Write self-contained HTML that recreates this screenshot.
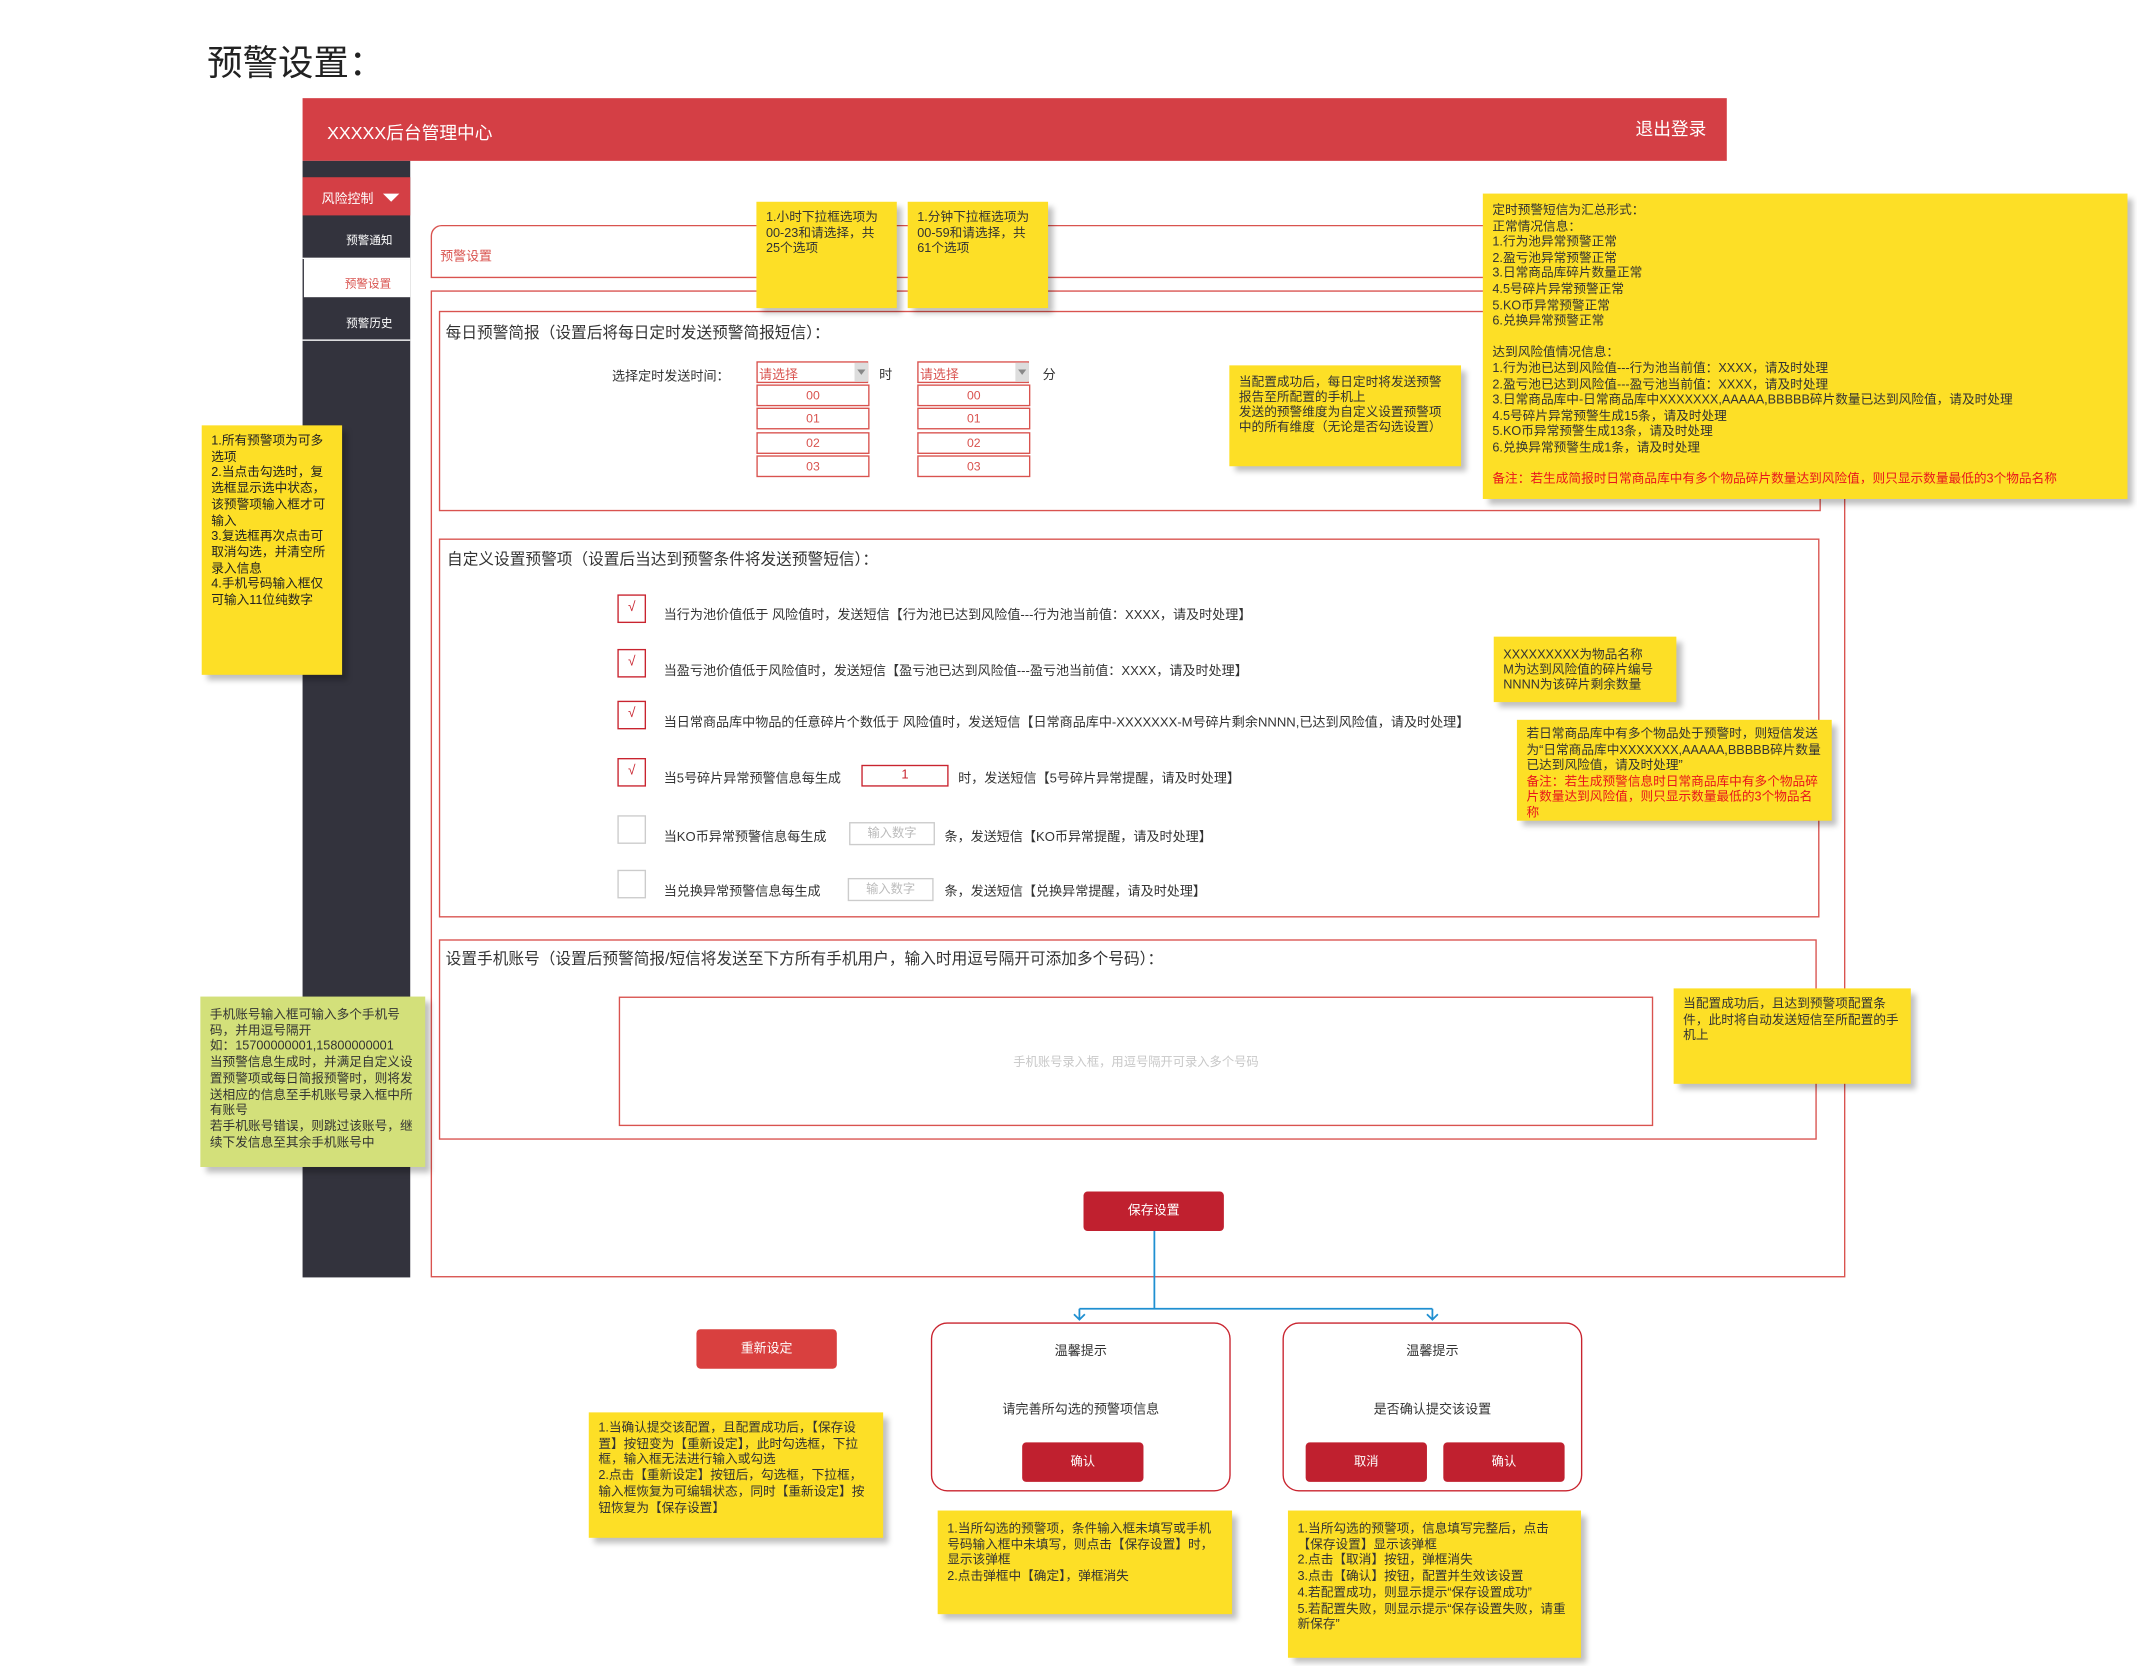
<!DOCTYPE html>
<html><head><meta charset="utf-8">
<style>
html,body{margin:0;padding:0;background:#fff;}
body{width:2137px;height:1666px;overflow:hidden;position:relative;}
#w{position:absolute;left:0;top:0;width:1568px;height:1222px;transform:scale(1.3629,1.3633);transform-origin:0 0;font-family:"Liberation Sans","Noto Sans CJK SC",sans-serif;color:#333;}
.a{position:absolute;}
.box{position:absolute;border:1px solid #d9534f;box-sizing:border-box;}
.note{position:absolute;background:#fddf26;box-shadow:4px 4px 4px rgba(0,0,0,0.25);font-size:9.3px;line-height:11.7px;padding:6px 7px;box-sizing:border-box;color:#333;}
.red{color:#e8141c;}
.t{position:absolute;font-size:9.6px;white-space:nowrap;color:#333;}
.opt{position:absolute;width:83px;height:16px;border:1px solid #d9534f;box-sizing:border-box;color:#d9534f;font-size:9px;text-align:center;line-height:14px;}
.cb{position:absolute;width:21px;height:21px;box-sizing:border-box;border:1px solid #c9242f;color:#c9242f;font-size:10px;text-align:center;line-height:18px;}
.cb.e{border-color:#ccc;}
.btn{position:absolute;color:#fff;font-size:9.5px;text-align:center;border-radius:3px;}
.dlg{position:absolute;border:1px solid #c9242f;border-radius:12px;box-sizing:border-box;background:#fff;}
</style></head><body><div id="w">

<div class="a" style="left:152px;top:26px;font-size:26px;color:#222;">预警设置：</div>

<div class="a" style="left:222px;top:72px;width:1045px;height:46px;background:#d43f45;"></div>
<div class="a" style="left:240px;top:87px;font-size:13px;color:#fff;">XXXXX后台管理中心</div>
<div class="a" style="left:1200px;top:84px;font-size:13px;color:#fff;">退出登录</div>

<div class="a" style="left:222px;top:118px;width:79px;height:819px;background:#33333d;"></div>
<div class="a" style="left:222px;top:130px;width:79px;height:28px;background:#d43f45;"></div>
<div class="a" style="left:236px;top:138px;font-size:9.5px;color:#fff;">风险控制</div>
<div class="a" style="left:281px;top:142px;width:0;height:0;border-left:6px solid transparent;border-right:6px solid transparent;border-top:6px solid #fff;"></div>
<div class="a" style="left:254px;top:170px;font-size:8.5px;color:#fff;">预警通知</div>
<div class="a" style="left:222px;top:189px;width:79px;height:1px;background:#fff;"></div>
<div class="a" style="left:223px;top:190px;width:78px;height:28px;background:#fff;"></div>
<div class="a" style="left:253px;top:202px;font-size:8.5px;color:#d9534f;">预警设置</div>
<div class="a" style="left:254px;top:231px;font-size:8.5px;color:#fff;">预警历史</div>
<div class="a" style="left:222px;top:249px;width:79px;height:1px;background:#fff;"></div>

<!-- tab box -->
<div class="box" style="left:316px;top:165px;width:1038px;height:39px;border-radius:8px 0 0 0;"></div>
<div class="a" style="left:323px;top:180px;font-size:9.5px;color:#d9534f;">预警设置</div>
<div class="box" style="left:316px;top:213px;width:1038px;height:724px;"></div>

<!-- daily -->
<div class="box" style="left:322px;top:228px;width:1014px;height:147px;"></div>
<div class="t" style="left:327px;top:236px;font-size:11.5px;">每日预警简报（设置后将每日定时发送预警简报短信）：</div>
<div class="t" style="left:449px;top:268px;">选择定时发送时间：</div>
<div class="a" style="left:555px;top:265px;width:82px;height:16px;border:1px solid #d9534f;box-sizing:border-box;"></div>
<div class="a" style="left:627px;top:266px;width:10px;height:14px;background:#ddd;"></div>
<div class="a" style="left:629px;top:271px;border-left:3px solid transparent;border-right:3px solid transparent;border-top:4px solid #888;"></div>
<div class="a" style="left:557px;top:267px;font-size:9.5px;color:#d9534f;">请选择</div>
<div class="t" style="left:645px;top:267px;">时</div>
<div class="a" style="left:673px;top:265px;width:82px;height:16px;border:1px solid #d9534f;box-sizing:border-box;"></div>
<div class="a" style="left:745px;top:266px;width:10px;height:14px;background:#ddd;"></div>
<div class="a" style="left:747px;top:271px;border-left:3px solid transparent;border-right:3px solid transparent;border-top:4px solid #888;"></div>
<div class="a" style="left:675px;top:267px;font-size:9.5px;color:#d9534f;">请选择</div>
<div class="t" style="left:765px;top:267px;">分</div>
<div class="opt" style="left:555px;top:282px;">00</div>
<div class="opt" style="left:555px;top:299px;">01</div>
<div class="opt" style="left:555px;top:317px;">02</div>
<div class="opt" style="left:555px;top:334px;">03</div>
<div class="opt" style="left:673px;top:282px;">00</div>
<div class="opt" style="left:673px;top:299px;">01</div>
<div class="opt" style="left:673px;top:317px;">02</div>
<div class="opt" style="left:673px;top:334px;">03</div>

<!-- custom -->
<div class="box" style="left:322px;top:395px;width:1013px;height:278px;"></div>
<div class="t" style="left:328px;top:402px;font-size:11.5px;">自定义设置预警项（设置后当达到预警条件将发送预警短信）：</div>
<div class="cb" style="left:453px;top:436px;">√</div>
<div class="t" style="left:487px;top:443px;">当行为池价值低于 风险值时，发送短信【行为池已达到风险值---行为池当前值：XXXX，请及时处理】</div>
<div class="cb" style="left:453px;top:476px;">√</div>
<div class="t" style="left:487px;top:484px;">当盈亏池价值低于风险值时，发送短信【盈亏池已达到风险值---盈亏池当前值：XXXX，请及时处理】</div>
<div class="cb" style="left:453px;top:514px;">√</div>
<div class="t" style="left:487px;top:522px;">当日常商品库中物品的任意碎片个数低于 风险值时，发送短信【日常商品库中-XXXXXXX-M号碎片剩余NNNN,已达到风险值，请及时处理】</div>
<div class="cb" style="left:453px;top:556px;">√</div>
<div class="t" style="left:487px;top:563px;">当5号碎片异常预警信息每生成</div>
<div class="a" style="left:632px;top:561px;width:64px;height:16px;border:1px solid #c9242f;box-sizing:border-box;font-size:9.5px;color:#c9242f;text-align:center;line-height:14px;">1</div>
<div class="t" style="left:703px;top:563px;">时，发送短信【5号碎片异常提醒，请及时处理】</div>
<div class="cb e" style="left:453px;top:598px;"></div>
<div class="t" style="left:487px;top:606px;">当KO币异常预警信息每生成</div>
<div class="a" style="left:623px;top:603px;width:63px;height:17px;border:1px solid #ccc;box-sizing:border-box;font-size:9px;color:#bbb;text-align:center;line-height:15px;">输入数字</div>
<div class="t" style="left:693px;top:606px;">条，发送短信【KO币异常提醒，请及时处理】</div>
<div class="cb e" style="left:453px;top:638px;"></div>
<div class="t" style="left:487px;top:646px;">当兑换异常预警信息每生成</div>
<div class="a" style="left:622px;top:644px;width:63px;height:17px;border:1px solid #ccc;box-sizing:border-box;font-size:9px;color:#bbb;text-align:center;line-height:15px;">输入数字</div>
<div class="t" style="left:693px;top:646px;">条，发送短信【兑换异常提醒，请及时处理】</div>

<!-- phone -->
<div class="box" style="left:322px;top:689px;width:1011px;height:147px;"></div>
<div class="t" style="left:327px;top:695px;font-size:11.5px;">设置手机账号（设置后预警简报/短信将发送至下方所有手机用户，输入时用逗号隔开可添加多个号码）：</div>
<div class="box" style="left:454px;top:731px;width:759px;height:95px;"></div>
<div class="a" style="left:454px;top:772px;width:759px;text-align:center;font-size:9px;color:#c8c8c8;">手机账号录入框，用逗号隔开可录入多个号码</div>

<!-- save -->
<div class="btn" style="left:795px;top:874px;width:103px;height:29px;line-height:29px;background:#c0202f;">保存设置</div>
<svg class="a" style="left:0;top:0;" width="1568" height="1222">
<g stroke="#1f8fd1" stroke-width="1.3" fill="none">
<line x1="847" y1="903" x2="847" y2="960"/>
<line x1="792" y1="960" x2="1051" y2="960"/>
<line x1="792" y1="960" x2="792" y2="968"/>
<line x1="1051" y1="960" x2="1051" y2="968"/>
<polyline points="788,964 792,968 796,964"/>
<polyline points="1047,964 1051,968 1055,964"/>
</g></svg>
<div class="btn" style="left:511px;top:975px;width:103px;height:29px;line-height:29px;background:#d9403f;">重新设定</div>

<div class="dlg" style="left:683px;top:970px;width:220px;height:124px;"></div>
<div class="t" style="left:683px;top:983px;width:220px;text-align:center;">温馨提示</div>
<div class="t" style="left:683px;top:1026px;width:220px;text-align:center;">请完善所勾选的预警项信息</div>
<div class="btn" style="left:750px;top:1058px;width:89px;height:29px;line-height:29px;background:#c0202f;font-size:9px;">确认</div>
<div class="dlg" style="left:941px;top:970px;width:220px;height:124px;"></div>
<div class="t" style="left:941px;top:983px;width:220px;text-align:center;">温馨提示</div>
<div class="t" style="left:941px;top:1026px;width:220px;text-align:center;">是否确认提交该设置</div>
<div class="btn" style="left:958px;top:1058px;width:89px;height:29px;line-height:29px;background:#c0202f;font-size:9px;">取消</div>
<div class="btn" style="left:1059px;top:1058px;width:89px;height:29px;line-height:29px;background:#c0202f;font-size:9px;">确认</div>

<!-- notes -->
<div class="note" style="left:555px;top:148px;width:103px;height:78px;">1.小时下拉框选项为00-23和请选择，共25个选项</div>
<div class="note" style="left:666px;top:148px;width:103px;height:78px;">1.分钟下拉框选项为00-59和请选择，共61个选项</div>
<div class="note" style="left:902px;top:268px;width:170px;height:74px;padding-top:7px;line-height:11px;">当配置成功后，每日定时将发送预警报告至所配置的手机上<br>发送的预警维度为自定义设置预警项中的所有维度（无论是否勾选设置）</div>
<div class="note" style="left:1088px;top:142px;width:473px;height:224px;padding-top:7px;line-height:11.6px;">定时预警短信为汇总形式：<br>正常情况信息：<br>1.行为池异常预警正常<br>2.盈亏池异常预警正常<br>3.日常商品库碎片数量正常<br>4.5号碎片异常预警正常<br>5.KO币异常预警正常<br>6.兑换异常预警正常<br><br>达到风险值情况信息：<br>1.行为池已达到风险值---行为池当前值：XXXX，请及时处理<br>2.盈亏池已达到风险值---盈亏池当前值：XXXX，请及时处理<br>3.日常商品库中-日常商品库中XXXXXXX,AAAAA,BBBBB碎片数量已达到风险值，请及时处理<br>4.5号碎片异常预警生成15条，请及时处理<br>5.KO币异常预警生成13条，请及时处理<br>6.兑换异常预警生成1条，请及时处理<br><br><span class="red">备注：若生成简报时日常商品库中有多个物品碎片数量达到风险值，则只显示数量最低的3个物品名称</span></div>
<div class="note" style="left:148px;top:312px;width:103px;height:183px;color:#222;">1.所有预警项为可多选项<br>2.当点击勾选时，复选框显示选中状态，该预警项输入框才可输入<br>3.复选框再次点击可取消勾选，并清空所录入信息<br>4.手机号码输入框仅可输入11位纯数字</div>
<div class="note" style="left:1096px;top:467px;width:134px;height:48px;padding-top:8px;line-height:11px;">XXXXXXXXX为物品名称<br>M为达到风险值的碎片编号<br>NNNN为该碎片剩余数量</div>
<div class="note" style="left:1113px;top:528px;width:231px;height:74px;padding-top:5px;line-height:11.5px;">若日常商品库中有多个物品处于预警时，则短信发送为“日常商品库中XXXXXXX,AAAAA,BBBBB碎片数量已达到风险值，请及时处理”<br><span class="red">备注：若生成预警信息时日常商品库中有多个物品碎片数量达到风险值，则只显示数量最低的3个物品名称</span></div>
<div class="note" style="left:147px;top:731px;width:165px;height:125px;background:#d3e07a;padding-top:8px;">手机账号输入框可输入多个手机号码，并用逗号隔开<br>如：15700000001,15800000001<br>当预警信息生成时，并满足自定义设置预警项或每日简报预警时，则将发送相应的信息至手机账号录入框中所有账号<br>若手机账号错误，则跳过该账号，继续下发信息至其余手机账号中</div>
<div class="note" style="left:1228px;top:725px;width:174px;height:70px;">当配置成功后，且达到预警项配置条件，此时将自动发送短信至所配置的手机上</div>
<div class="note" style="left:432px;top:1036px;width:216px;height:92px;">1.当确认提交该配置，且配置成功后，【保存设置】按钮变为【重新设定】，此时勾选框，下拉框，输入框无法进行输入或勾选<br>2.点击【重新设定】按钮后，勾选框，下拉框，输入框恢复为可编辑状态，同时【重新设定】按钮恢复为【保存设置】</div>
<div class="note" style="left:688px;top:1108px;width:216px;height:76px;padding-top:8px;">1.当所勾选的预警项，条件输入框未填写或手机号码输入框中未填写，则点击【保存设置】时，显示该弹框<br>2.点击弹框中【确定】，弹框消失</div>
<div class="note" style="left:945px;top:1108px;width:215px;height:108px;padding-top:8px;">1.当所勾选的预警项，信息填写完整后，点击【保存设置】显示该弹框<br>2.点击【取消】按钮，弹框消失<br>3.点击【确认】按钮，配置并生效该设置<br>4.若配置成功，则显示提示“保存设置成功”<br>5.若配置失败，则显示提示“保存设置失败，请重新保存”</div>

</div></body></html>
